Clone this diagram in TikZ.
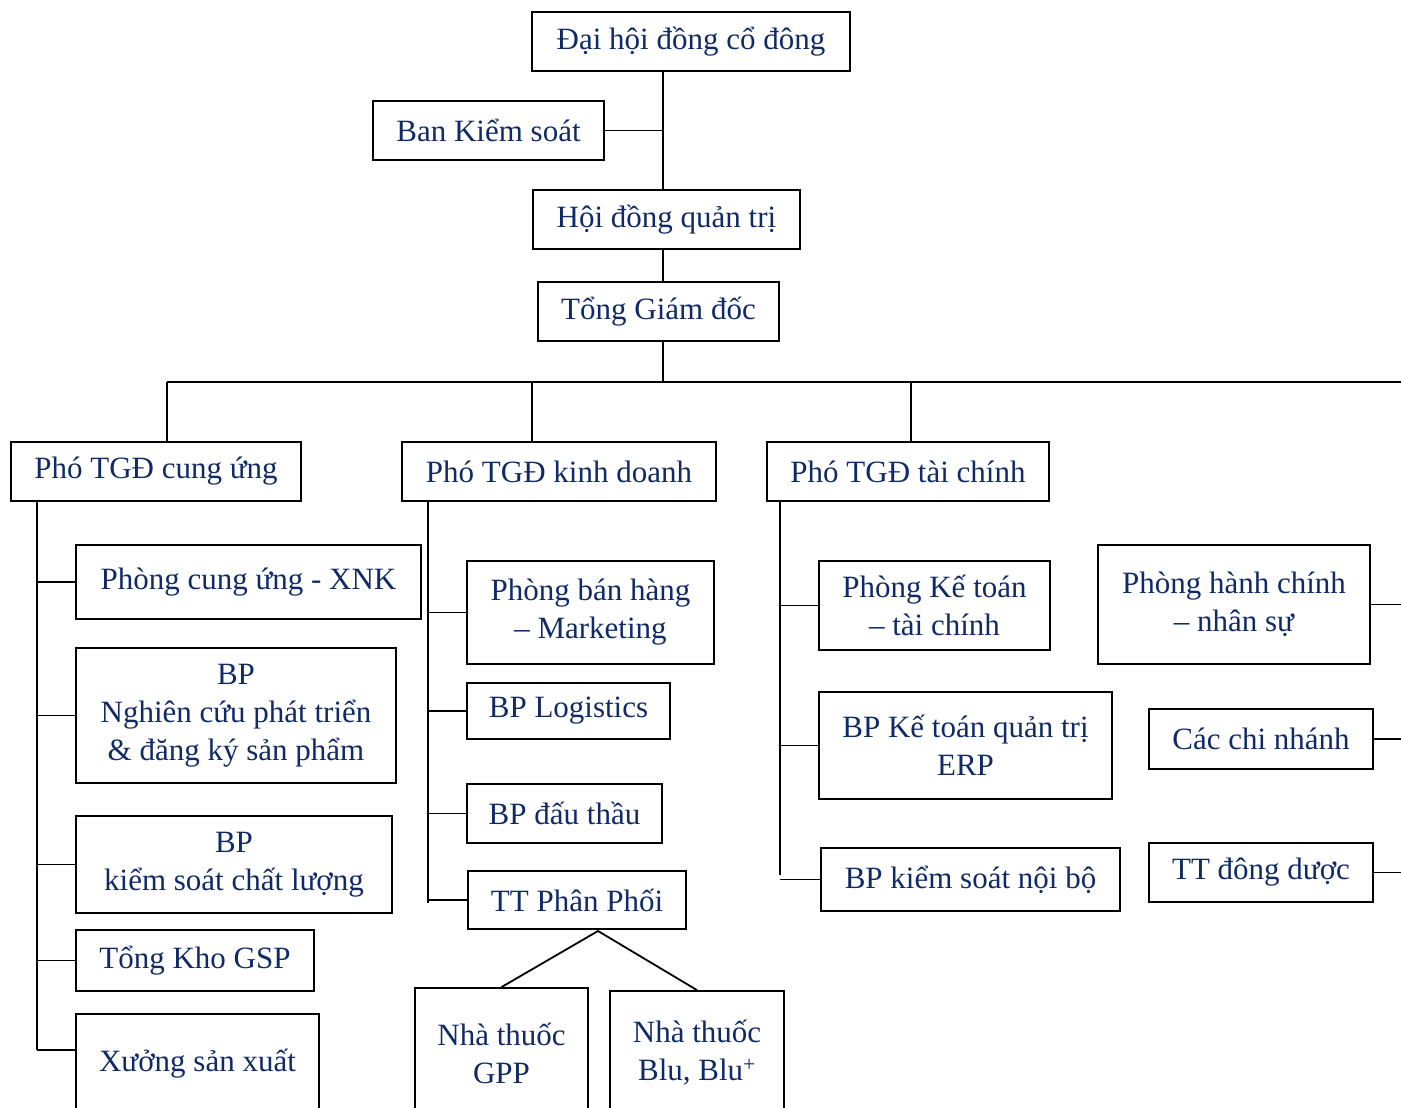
\documentclass[tikz,border=0pt]{standalone}
\usepackage{fontspec}
\setmainfont{Liberation Serif}
\usepackage{xcolor}
\usetikzlibrary{shapes,arrows,positioning,calc}
\definecolor{navy}{HTML}{102A66}

\begin{document}
\begin{tikzpicture}[x=1pt, y=-1pt, line width=1.8pt,
  box/.style={rectangle, draw, inner sep=0pt, align=center, text=navy,
    font=\fontsize{31}{38}\selectfont}]
\useasboundingbox (0,0) rectangle (1401,1108);
\clip (0,0) rectangle (1401,1108);

\node[box, minimum width=318pt, minimum height=59pt] (dhcd) at (691,41.5) {Đại hội đồng cổ đông};
\node[box, minimum width=231pt, minimum height=59pt] (bks) at (488.5,130.5) {Ban Kiểm soát};
\node[box, minimum width=267pt, minimum height=59pt] (hdqt) at (666.5,219.5) {Hội đồng quản trị};
\node[box, minimum width=241pt, minimum height=59pt] (tgd) at (658.5,311.5) {Tổng Giám đốc};

\node[box, minimum width=290pt, minimum height=59pt] (cu) at (156,471.5) {Phó TGĐ cung ứng};
\node[box, minimum width=314pt, minimum height=59pt] (kd) at (559,471.5) {Phó TGĐ kinh doanh};
\node[box, minimum width=282pt, minimum height=59pt] (tc) at (908,471.5) {Phó TGĐ tài chính};

\node[box, minimum width=345pt, minimum height=74pt] (xnk) at (248.5,582) {Phòng cung ứng - XNK};
\node[box, minimum width=320pt, minimum height=135pt] (nc) at (236,715.5) {BP\\Nghiên cứu phát triển\\\& đăng ký sản phẩm};
\node[box, minimum width=316pt, minimum height=97pt] (kscl) at (234,864.5) {BP\\kiểm soát chất  lượng};
\node[box, minimum width=238pt, minimum height=61pt] (kho) at (195,960.5) {Tổng Kho GSP};
\node[box, minimum width=243pt, minimum height=100pt] (xuong) at (197.5,1064) {Xưởng sản xuất};

\node[box, minimum width=247pt, minimum height=103pt] (bh) at (590.5,612.5) {Phòng bán hàng\\– Marketing};
\node[box, minimum width=203pt, minimum height=56pt] (log) at (568.5,711) {BP Logistics};
\node[box, minimum width=195pt, minimum height=59pt] (dt) at (564.5,813.5) {BP đấu thầu};
\node[box, minimum width=218pt, minimum height=58pt] (ttpp) at (577,900) {TT Phân Phối};
\node[box, minimum width=173pt, minimum height=130pt] (gpp) at (501.5,1053) {Nhà thuốc\\GPP};
\node[box, minimum width=174pt, minimum height=124pt] (blu) at (697,1053) {Nhà thuốc\\Blu, Blu\textsuperscript{+}};

\node[box, minimum width=231pt, minimum height=89pt] (ktc) at (934.5,605.5) {Phòng Kế toán\\– tài chính};
\node[box, minimum width=293pt, minimum height=107pt] (erp) at (965.5,745.5) {BP Kế toán quản trị\\ERP};
\node[box, minimum width=299pt, minimum height=63pt] (ksnb) at (970.5,879.5) {BP kiểm soát nội bộ};

\node[box, minimum width=272pt, minimum height=119pt] (hcns) at (1234,604.5) {Phòng hành chính\\– nhân sự};
\node[box, minimum width=224pt, minimum height=60pt] (cn) at (1261,739) {Các chi nhánh};
\node[box, minimum width=224pt, minimum height=59pt] (ttdd) at (1261,872.5) {TT đông dược};

% top spine and bus
\coordinate (sx) at (663,382);
\coordinate (busL) at (167,382);
\coordinate (busR) at (1401,382);
\coordinate (dkd) at (532,382);
\coordinate (dtc) at (911,382);
\draw (dhcd.south -| sx) -- (hdqt.north -| sx);
\draw (bks.east) -- (bks.east -| sx);
\draw (hdqt.south -| sx) -- (tgd.north -| sx);
\draw (tgd.south -| sx) -- (sx);
\draw (busL) -- (busR);
\draw (busL) -- (cu.north -| busL);
\draw (dkd) -- (kd.north -| dkd);
\draw (dtc) -- (tc.north -| dtc);

% cung ung
\coordinate (cuL) at (37,1050);
\draw (cu.south -| cuL) -- (cuL);
\draw (xnk.west) -- (xnk.west -| cuL);
\draw (nc.west) -- (nc.west -| cuL);
\draw (kscl.west) -- (kscl.west -| cuL);
\draw (kho.west) -- (kho.west -| cuL);
\draw (cuL) -- (cuL -| xuong.west);

% kinh doanh
\coordinate (kdL) at (428,903);
\draw (kd.south -| kdL) -- (kdL);
\draw (bh.west) -- (bh.west -| kdL);
\draw (log.west) -- (log.west -| kdL);
\draw (dt.west) -- (dt.west -| kdL);
\draw (ttpp.west) -- (ttpp.west -| kdL);
\coordinate (fork) at (598,931);
\draw (gpp.north) -- (fork) -- (blu.north);

% tai chinh
\coordinate (tcL) at (780,875);
\draw (tc.south -| tcL) -- (tcL);
\draw (ktc.west) -- (ktc.west -| tcL);
\draw (erp.west) -- (erp.west -| tcL);
\draw (ksnb.west) -- (ksnb.west -| tcL);

% khoi ben phai
\draw (hcns.east) -- (hcns.east -| busR);
\draw (cn.east) -- (cn.east -| busR);
\draw (ttdd.east) -- (ttdd.east -| busR);
\end{tikzpicture}
\end{document}
